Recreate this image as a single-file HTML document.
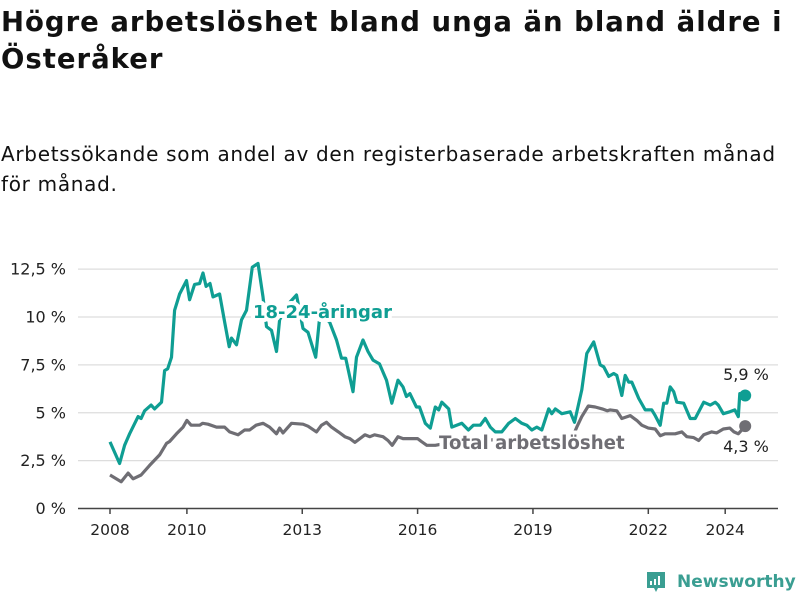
<!DOCTYPE html>
<html><head><meta charset="utf-8"><style>
body{margin:0;width:800px;height:600px;background:#fff;font-family:"DejaVu Sans","Liberation Sans",sans-serif;overflow:hidden;position:relative;color:#111}
h1{position:absolute;left:1px;top:4px;margin:0;font-size:27.5px;line-height:37px;font-weight:bold;width:799px;white-space:nowrap;letter-spacing:1px}
.sub{position:absolute;left:1px;top:139px;margin:0;font-size:20px;line-height:30px;width:799px;white-space:nowrap;letter-spacing:0.7px}
svg{position:absolute;left:0;top:0}
</style></head><body>
<h1>Högre arbetslöshet bland unga än bland äldre i<br>Österåker</h1>
<p class="sub">Arbetssökande som andel av den registerbaserade arbetskraften månad<br>för månad.</p>
<svg id="chart" width="800" height="600"></svg>
<div style="position:absolute;left:645px;top:570px;display:flex;align-items:center;color:#3a9e92;font-size:17px;font-weight:bold">
<svg width="22" height="24" style="position:static;margin-right:10px"><path d="M2 2h18v16h-7l-2 4-2-4H2z" fill="#3a9e92"/><rect x="5" y="11" width="2" height="4" fill="#fff"/><rect x="9" y="9" width="2" height="6" fill="#fff"/><rect x="13" y="6" width="2" height="9" fill="#fff"/></svg>Newsworthy</div>
<script>
const tickYears=[2008,2010,2013,2016,2019,2022,2024];
const yTicks=[0,2.5,5,7.5,10,12.5];
const yTickLabels=["0 %","2,5 %","5 %","7,5 %","10 %","12,5 %"];
const youthDates=[2008.0,2008.25,2008.38,2008.51,2008.73,2008.81,2008.9,2009.07,2009.16,2009.34,2009.42,2009.5,2009.6,2009.68,2009.81,2009.99,2010.07,2010.2,2010.33,2010.42,2010.5,2010.6,2010.68,2010.85,2010.98,2011.1,2011.16,2011.29,2011.42,2011.55,2011.7,2011.85,2011.98,2012.07,2012.2,2012.33,2012.41,2012.6,2012.85,2013.02,2013.15,2013.35,2013.44,2013.54,2013.71,2013.89,2014.02,2014.13,2014.32,2014.41,2014.58,2014.71,2014.84,2015.01,2015.19,2015.33,2015.49,2015.62,2015.71,2015.8,2015.97,2016.05,2016.2,2016.33,2016.46,2016.55,2016.63,2016.81,2016.89,2017.15,2017.32,2017.45,2017.63,2017.76,2017.89,2018.02,2018.19,2018.37,2018.54,2018.71,2018.84,2018.97,2019.1,2019.23,2019.41,2019.49,2019.58,2019.75,2019.97,2020.08,2020.27,2020.4,2020.58,2020.75,2020.84,2020.97,2021.1,2021.18,2021.31,2021.4,2021.49,2021.57,2021.75,2021.92,2022.09,2022.18,2022.31,2022.4,2022.48,2022.57,2022.66,2022.74,2022.92,2023.09,2023.22,2023.44,2023.61,2023.74,2023.82,2023.95,2024.12,2024.25,2024.34,2024.38,2024.52];
const youthValues=[3.48,2.35,3.3,3.9,4.8,4.7,5.1,5.4,5.2,5.55,7.2,7.3,7.9,10.35,11.2,11.9,10.9,11.7,11.75,12.3,11.6,11.75,11.05,11.2,9.75,8.45,8.9,8.55,9.85,10.35,12.6,12.8,11.05,9.5,9.3,8.2,9.85,10.6,11.15,9.4,9.2,7.9,9.75,10.0,9.75,8.8,7.85,7.85,6.1,7.9,8.8,8.2,7.75,7.55,6.7,5.5,6.7,6.35,5.85,6.0,5.3,5.3,4.45,4.2,5.3,5.15,5.55,5.2,4.25,4.45,4.1,4.35,4.35,4.7,4.25,4.0,4.0,4.45,4.7,4.45,4.35,4.1,4.25,4.1,5.2,4.95,5.2,4.95,5.05,4.5,6.2,8.1,8.7,7.5,7.4,6.9,7.05,6.95,5.9,6.95,6.6,6.6,5.75,5.15,5.15,4.85,4.35,5.5,5.5,6.35,6.1,5.55,5.5,4.7,4.7,5.55,5.4,5.55,5.4,4.95,5.05,5.15,4.8,6.0,5.9];
const totalDates=[2008.0,2008.29,2008.47,2008.6,2008.81,2009.03,2009.29,2009.47,2009.55,2009.73,2009.9,2010.0,2010.11,2010.33,2010.41,2010.55,2010.77,2010.98,2011.11,2011.33,2011.5,2011.63,2011.8,2011.98,2012.15,2012.33,2012.41,2012.5,2012.72,2013.02,2013.15,2013.37,2013.5,2013.63,2013.76,2013.94,2014.11,2014.24,2014.37,2014.5,2014.63,2014.76,2014.88,2015.1,2015.23,2015.34,2015.49,2015.62,2015.75,2016.0,2016.1,2016.24,2016.46,2017.0,2017.5,2018.0,2018.5,2019.0,2019.5,2020.0,2020.14,2020.27,2020.44,2020.62,2020.8,2020.93,2021.01,2021.18,2021.31,2021.53,2021.7,2021.83,2022.0,2022.18,2022.31,2022.44,2022.7,2022.87,2023.0,2023.18,2023.31,2023.44,2023.65,2023.78,2023.95,2024.12,2024.23,2024.34,2024.52];
const totalValues=[1.75,1.4,1.85,1.55,1.75,2.25,2.8,3.4,3.5,3.9,4.25,4.6,4.35,4.35,4.45,4.4,4.25,4.25,4.0,3.85,4.1,4.1,4.35,4.45,4.25,3.9,4.2,3.95,4.45,4.4,4.3,4.0,4.35,4.5,4.25,4.0,3.75,3.65,3.45,3.65,3.85,3.75,3.85,3.75,3.55,3.3,3.75,3.65,3.65,3.65,3.5,3.3,3.3,3.5,3.5,3.6,3.6,3.5,3.6,3.6,4.25,4.8,5.35,5.3,5.2,5.1,5.15,5.1,4.7,4.85,4.6,4.35,4.2,4.15,3.8,3.9,3.9,4.0,3.75,3.7,3.55,3.85,4.0,3.95,4.15,4.2,4.0,3.9,4.3];
const NS="http://www.w3.org/2000/svg";
const svg=document.getElementById('chart');
const x=y=>110+(y-2008)*38.45;
const yv=v=>508.5-v*19.15;
function mk(tag,attrs){const e=document.createElementNS(NS,tag);for(const k in attrs)e.setAttribute(k,attrs[k]);svg.appendChild(e);return e;}
yTicks.forEach((t,i)=>{
 if(t>0){const g=mk('line',{x1:78,x2:778,y1:yv(t),y2:yv(t),stroke:'#ddd','stroke-width':1.3});
 
 }
 const l=mk('text',{x:66,y:yv(t)+5.5,'text-anchor':'end','font-size':16,fill:'#222'});l.textContent=yTickLabels[i];
 
 
});
const ax=mk('line',{x1:78,x2:778,y1:508.5,y2:508.5,stroke:'#444','stroke-width':1.5});


tickYears.forEach(t=>{
 const tk=mk('line',{x1:x(t),x2:x(t),y1:508.5,y2:514,stroke:'#444','stroke-width':1.5});
 
 
 const l=mk('text',{x:x(t),y:535,'text-anchor':'middle','font-size':15.5,fill:'#222'});l.textContent=t;
 
 
});
function line(d,v,c,name){const p=mk('path',{d:d.map((t,i)=>(i?'L':'M')+x(t).toFixed(1)+','+yv(v[i]).toFixed(1)).join(''),fill:'none',stroke:c,'stroke-width':3.2,'stroke-linejoin':'round'});
 
 }
line(totalDates,totalValues,'#6f6e74','total-line');
line(youthDates,youthValues,'#0f9e93','youth-line');
const d1=mk('circle',{cx:x(youthDates[youthDates.length-1]),cy:yv(youthValues[youthValues.length-1]),r:6,fill:'#0f9e93'});


const d2=mk('circle',{cx:x(totalDates[totalDates.length-1]),cy:yv(totalValues[totalValues.length-1]),r:6,fill:'#6f6e74'});


function lab(t,xx,yy,c,w,fs,anchor,name,halo){const e=mk('text',{x:xx,y:yy,'font-size':fs,'font-weight':w,fill:c,'text-anchor':anchor});
 if(halo){e.setAttribute('stroke','#fff');e.setAttribute('stroke-width',8);e.setAttribute('paint-order','stroke');e.setAttribute('stroke-linejoin','round');}
 e.textContent=t;
 
 }
lab('18-24-åringar',253,318,'#0f9e93','bold',18,'start','youth-series-label',true);
lab('Total arbetslöshet',439,449,'#6f6e74','bold',18.2,'start','total-series-label',true);
lab('5,9 %',746,380,'#222','normal',16,'middle','youth-end-value',false);
lab('4,3 %',746,452,'#222','normal',16,'middle','total-end-value',false);
</script>
</body></html>
